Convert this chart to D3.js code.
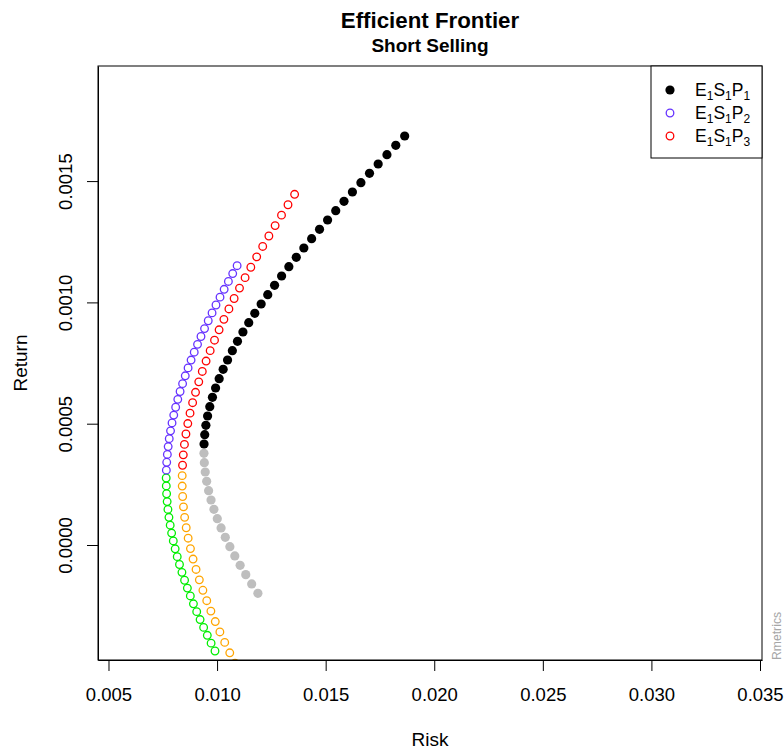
<!DOCTYPE html>
<html>
<head>
<meta charset="utf-8">
<script src="https://cdn.jsdelivr.net/npm/d3@7"></script>
<style>
  body { margin: 0; background: #fff; }
  svg { display: block; }
  text { font-family: "Liberation Sans", Arial, sans-serif; }
</style>
</head>
<body>
<svg id="chart"></svg>
<script>
// frontier points, listed from lowest to highest return
const p1Risk = [0.011880, 0.011594, 0.011321, 0.011062, 0.010817, 0.010589, 0.010378, 0.010184, 0.010010, 0.009855,
    0.009722, 0.009610, 0.009521, 0.009455, 0.009413, 0.009395, 0.009401, 0.009431, 0.009485, 0.009563,
    0.009664, 0.009787, 0.009931, 0.010096, 0.010280, 0.010483, 0.010703, 0.010940, 0.011191, 0.011458,
    0.011737, 0.012029, 0.012333, 0.012647, 0.012971, 0.013305, 0.013647, 0.013996, 0.014354, 0.014718,
    0.015088, 0.015464, 0.015845, 0.016232, 0.016623, 0.017019, 0.017418, 0.017822, 0.018229, 0.018639];
const p1Return = [-0.0001991, -0.0001606, -0.0001221, -0.0000837, -0.0000452, -0.0000068, 0.0000317, 0.0000702, 0.0001086, 0.0001471,
    0.0001856, 0.0002240, 0.0002625, 0.0003010, 0.0003395, 0.0003779, 0.0004164, 0.0004548, 0.0004933, 0.0005318,
    0.0005703, 0.0006087, 0.0006472, 0.0006857, 0.0007241, 0.0007626, 0.0008011, 0.0008395, 0.0008780, 0.0009165,
    0.0009550, 0.0009934, 0.0010319, 0.0010704, 0.0011089, 0.0011473, 0.0011858, 0.0012243, 0.0012627, 0.0013012,
    0.0013397, 0.0013781, 0.0014166, 0.0014551, 0.0014935, 0.0015320, 0.0015705, 0.0016090, 0.0016474, 0.0016859];
const p1Inefficient = 16;

const p2Risk = [0.009904, 0.009725, 0.009550, 0.009381, 0.009218, 0.009062, 0.008911, 0.008768, 0.008632, 0.008503,
    0.008382, 0.008269, 0.008165, 0.008070, 0.007984, 0.007907, 0.007841, 0.007784, 0.007737, 0.007701,
    0.007676, 0.007661, 0.007657, 0.007664, 0.007681, 0.007710, 0.007748, 0.007797, 0.007857, 0.007926,
    0.008005, 0.008093, 0.008191, 0.008297, 0.008412, 0.008535, 0.008665, 0.008803, 0.008948, 0.009100,
    0.009259, 0.009423, 0.009593, 0.009769, 0.009950, 0.010135, 0.010326, 0.010521, 0.010720, 0.010923];
const p2Return = [-0.0004369, -0.0004045, -0.0003721, -0.0003397, -0.0003073, -0.0002748, -0.0002424, -0.0002100, -0.0001776, -0.0001452,
    -0.0001128, -0.0000804, -0.0000480, -0.0000156, 0.0000169, 0.0000493, 0.0000817, 0.0001141, 0.0001465, 0.0001789,
    0.0002113, 0.0002437, 0.0002761, 0.0003086, 0.0003410, 0.0003734, 0.0004058, 0.0004382, 0.0004706, 0.0005030,
    0.0005354, 0.0005678, 0.0006003, 0.0006327, 0.0006651, 0.0006975, 0.0007299, 0.0007623, 0.0007947, 0.0008271,
    0.0008595, 0.0008920, 0.0009244, 0.0009568, 0.0009892, 0.0010216, 0.0010540, 0.0010864, 0.0011188, 0.0011512];
const p2Inefficient = 23;

const p3Risk = [0.011870, 0.011598, 0.011333, 0.011076, 0.010826, 0.010584, 0.010352, 0.010129, 0.009917, 0.009715,
    0.009525, 0.009347, 0.009183, 0.009032, 0.008895, 0.008774, 0.008668, 0.008579, 0.008507, 0.008452,
    0.008415, 0.008395, 0.008394, 0.008410, 0.008444, 0.008497, 0.008566, 0.008652, 0.008755, 0.008874,
    0.009008, 0.009157, 0.009319, 0.009494, 0.009682, 0.009882, 0.010093, 0.010314, 0.010545, 0.010785,
    0.011033, 0.011290, 0.011554, 0.011824, 0.012101, 0.012385, 0.012673, 0.012967, 0.013266, 0.013570];
const p3Return = [-0.0006591, -0.0006161, -0.0005732, -0.0005302, -0.0004873, -0.0004443, -0.0004014, -0.0003584, -0.0003155, -0.0002725,
    -0.0002296, -0.0001866, -0.0001437, -0.0001007, -0.0000578, -0.0000148, 0.0000281, 0.0000711, 0.0001140, 0.0001570,
    0.0001999, 0.0002429, 0.0002858, 0.0003288, 0.0003717, 0.0004147, 0.0004576, 0.0005006, 0.0005435, 0.0005865,
    0.0006294, 0.0006724, 0.0007153, 0.0007583, 0.0008012, 0.0008442, 0.0008871, 0.0009301, 0.0009730, 0.0010160,
    0.0010589, 0.0011019, 0.0011448, 0.0011878, 0.0012307, 0.0012737, 0.0013166, 0.0013596, 0.0014025, 0.0014455];
const p3Inefficient = 23;

const xTicks = [0.005, 0.010, 0.015, 0.020, 0.025, 0.030, 0.035];
const yTicks = [0.0000, 0.0005, 0.0010, 0.0015];
const legendLabels = ["1", "2", "3"];

const width = 784;
const height = 751;
const plot = { left: 98, right: 762, top: 66, bottom: 660 };
const font = "'Liberation Sans', Arial, sans-serif";

const svg = d3.select("#chart")
    .attr("width", width)
    .attr("height", height);

// 스케일
const x = d3.scaleLinear()
    .domain([0.004517, 0.035092])
    .range([plot.left, plot.right]);

const y = d3.scaleLinear()
    .domain([-0.000474, 0.0019744])
    .range([plot.bottom, plot.top]);

svg.append("clipPath")
    .attr("id", "clip")
    .append("rect")
    .attr("x", plot.left)
    .attr("y", plot.top)
    .attr("width", plot.right - plot.left)
    .attr("height", plot.bottom - plot.top + 1);

// 점 그리기
const series = [
    { risk: p1Risk, ret: p1Return, n: p1Inefficient, eff: "#000000", ineff: "#bebebe", filled: true },
    { risk: p2Risk, ret: p2Return, n: p2Inefficient, eff: "#6633ff", ineff: "#00ee00", filled: false },
    { risk: p3Risk, ret: p3Return, n: p3Inefficient, eff: "#ff0000", ineff: "#ffa500", filled: false }
];

const pts = svg.append("g").attr("clip-path", "url(#clip)");

series.forEach(s => {
    const data = s.risk.map((r, i) => ({ risk: r, ret: s.ret[i], eff: i >= s.n }));
    pts.selectAll(null)
        .data(data)
        .enter()
        .append("circle")
        .attr("cx", d => x(d.risk))
        .attr("cy", d => y(d.ret))
        .attr("r", s.filled ? 4.6 : 3.8)
        .attr("fill", d => s.filled ? (d.eff ? s.eff : s.ineff) : "none")
        .attr("stroke", d => s.filled ? "none" : (d.eff ? s.eff : s.ineff))
        .attr("stroke-width", 1.3);
});

// 박스
svg.append("rect")
    .attr("x", plot.left)
    .attr("y", plot.top)
    .attr("width", plot.right - plot.left)
    .attr("height", plot.bottom - plot.top)
    .attr("fill", "none")
    .attr("stroke", "#000")
    .attr("stroke-width", 1);

// X축
const xAxis = svg.append("g")
    .attr("transform", `translate(0,${plot.bottom})`)
    .call(d3.axisBottom(x).tickValues(xTicks).tickFormat(d3.format(".3f"))
        .tickSize(11).tickSizeOuter(0).tickPadding(17));

// Y축
const yAxis = svg.append("g")
    .attr("transform", `translate(${plot.left},0)`)
    .call(d3.axisLeft(y).tickValues(yTicks).tickFormat(d3.format(".4f"))
        .tickSize(11).tickSizeOuter(0));

[xAxis, yAxis].forEach(a => {
    a.select(".domain").attr("stroke", "#000");
    a.selectAll("line").attr("stroke", "#000");
    a.selectAll("text")
        .attr("fill", "#000")
        .style("font-family", font)
        .style("font-size", "18.5px");
});

yAxis.selectAll(".tick text")
    .attr("x", 0)
    .attr("dy", 0)
    .attr("text-anchor", "middle")
    .attr("transform", "translate(-26,0) rotate(-90)");

// 제목
svg.append("text")
    .attr("x", (plot.left + plot.right) / 2)
    .attr("y", 28)
    .attr("text-anchor", "middle")
    .style("font-size", "22.3px")
    .style("font-weight", "bold")
    .text("Efficient Frontier");

svg.append("text")
    .attr("x", (plot.left + plot.right) / 2)
    .attr("y", 52)
    .attr("text-anchor", "middle")
    .style("font-size", "19px")
    .style("font-weight", "bold")
    .text("Short Selling");

svg.append("text")
    .attr("x", (plot.left + plot.right) / 2)
    .attr("y", 746)
    .attr("text-anchor", "middle")
    .style("font-size", "19px")
    .text("Risk");

svg.append("text")
    .attr("transform", `translate(27,${(plot.top + plot.bottom) / 2}) rotate(-90)`)
    .attr("text-anchor", "middle")
    .style("font-size", "19px")
    .text("Return");

svg.append("text")
    .attr("transform", `translate(781,${plot.bottom}) rotate(-90)`)
    .attr("text-anchor", "start")
    .attr("fill", "#a6a6a6")
    .style("font-size", "12.2px")
    .text("Rmetrics");

// 범례
const legend = svg.append("g");
legend.append("rect")
    .attr("x", 651)
    .attr("y", plot.top)
    .attr("width", plot.right - 651)
    .attr("height", 92)
    .attr("fill", "#fff")
    .attr("stroke", "#000");

series.forEach((s, i) => {
    const ly = 90 + i * 23;
    legend.append("circle")
        .attr("cx", 670)
        .attr("cy", ly)
        .attr("r", s.filled ? 4.6 : 3.8)
        .attr("fill", s.filled ? s.eff : "none")
        .attr("stroke", s.filled ? "none" : s.eff)
        .attr("stroke-width", 1.3);
    const t = legend.append("text")
        .attr("x", 695)
        .attr("y", ly + 6)
        .style("font-size", "17.5px");
    [["E", "1"], ["S", "1"], ["P", legendLabels[i]]].forEach(([a, b], k) => {
        t.append("tspan").attr("dy", k === 0 ? 0 : -4).text(a);
        t.append("tspan").attr("dy", 4).style("font-size", "12px").text(b);
    });
});
</script>
</body>
</html>
